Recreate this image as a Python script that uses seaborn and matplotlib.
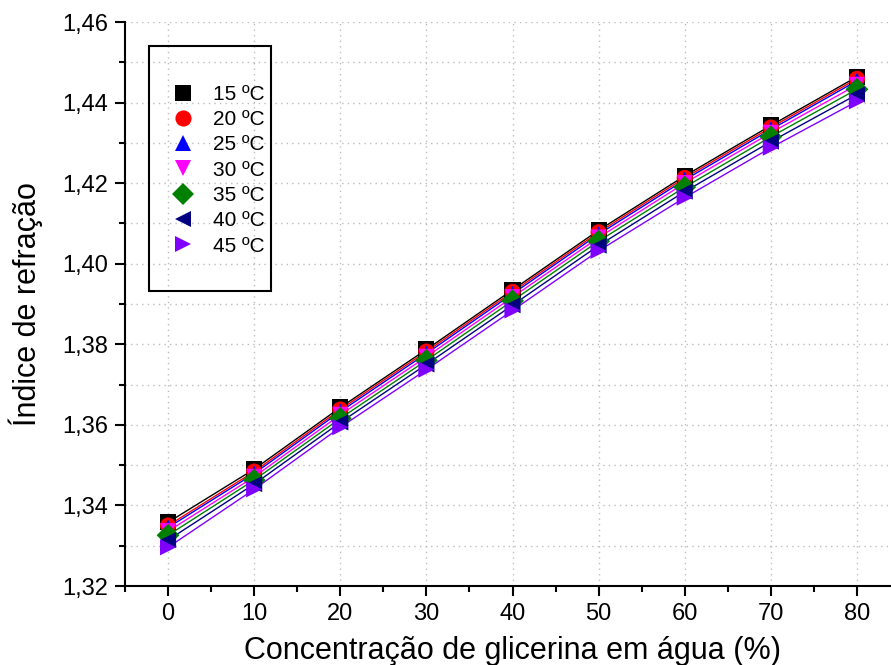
import numpy as np
import pandas as pd
import matplotlib
matplotlib.use("Agg")
import matplotlib.pyplot as plt
from matplotlib.patches import Rectangle
from matplotlib.ticker import MultipleLocator, FuncFormatter
import seaborn as sns

# Glycerin concentration in water (%)
concentration = [0, 10, 20, 30, 40, 50, 60, 70, 80]

# Refractive index for each temperature
n_15 = [1.3358, 1.3490, 1.3643, 1.3787, 1.3935, 1.4083, 1.4218, 1.4343, 1.4464]
n_20 = [1.3350, 1.3484, 1.3638, 1.3782, 1.3930, 1.4078, 1.4213, 1.4338, 1.4459]
n_25 = [1.3345, 1.3479, 1.3633, 1.3777, 1.3925, 1.4073, 1.4208, 1.4333, 1.4454]
n_30 = [1.3336, 1.3471, 1.3625, 1.3769, 1.3917, 1.4065, 1.4200, 1.4325, 1.4444]
n_35 = [1.3326, 1.3463, 1.3616, 1.3760, 1.3908, 1.4056, 1.4190, 1.4315, 1.4433]
n_40 = [1.3314, 1.3453, 1.3606, 1.3750, 1.3897, 1.4045, 1.4179, 1.4303, 1.4420]
n_45 = [1.3296, 1.3440, 1.3594, 1.3737, 1.3884, 1.4032, 1.4164, 1.4288, 1.4403]

temperatures = ["15 ºC", "20 ºC", "25 ºC", "30 ºC", "35 ºC", "40 ºC", "45 ºC"]
series = [n_15, n_20, n_25, n_30, n_35, n_40, n_45]

colors = ["#000000", "#FF0000", "#0000FF", "#FF00FF", "#008000", "#000080", "#8000FF"]
markers = ["s", "o", "^", "v", "D", "<", ">"]

df = pd.DataFrame({
    "conc": np.tile(concentration, len(temperatures)),
    "n": np.concatenate(series),
    "temp": np.repeat(temperatures, len(concentration)),
})

sns.set_theme(style="ticks")
plt.rcParams["font.family"] = ["Liberation Sans", "DejaVu Sans"]
plt.rcParams.update({
    "text.color": "black",
    "axes.labelcolor": "black",
    "xtick.color": "black",
    "ytick.color": "black",
})

W, H = 891, 665
fig = plt.figure(figsize=(W / 100, H / 100), dpi=100)
ax = fig.add_axes([125 / W, (H - 586) / H, 775 / W, 564 / H])

palette = dict(zip(temperatures, colors))
marker_map = dict(zip(temperatures, markers))

sns.lineplot(data=df, x="conc", y="n", hue="temp", palette=palette,
             linewidth=1.0, legend=False, ax=ax, zorder=2)
sns.scatterplot(data=df, x="conc", y="n", hue="temp", style="temp",
                palette=palette, markers=marker_map, s=135, linewidth=0,
                ax=ax, zorder=3)

ax.set_xlim(-5, 85)
ax.set_ylim(1.32, 1.46)
ax.xaxis.set_major_locator(MultipleLocator(10))
ax.xaxis.set_minor_locator(MultipleLocator(5))
ax.yaxis.set_major_locator(MultipleLocator(0.02))
ax.yaxis.set_minor_locator(MultipleLocator(0.01))
ax.yaxis.set_major_formatter(FuncFormatter(lambda v, p: f"{v:.2f}".replace(".", ",")))

ax.grid(True, which="major", axis="x", color="#bdbdbd", linestyle=(0, (1, 3)), linewidth=1)
ax.grid(True, which="both", axis="y", color="#bdbdbd", linestyle=(0, (1, 3)), linewidth=1)
ax.set_axisbelow(True)

for side in ("top", "right"):
    ax.spines[side].set_visible(False)
for side in ("left", "bottom"):
    ax.spines[side].set_linewidth(1.5)
    ax.spines[side].set_color("black")

ax.tick_params(which="major", direction="out", length=7, width=1.5, labelsize=17,
               colors="black", pad=5)
ax.tick_params(which="minor", direction="out", length=4, width=1.5, colors="black")

ax.set_xlabel("Concentração de glicerina em água (%)", fontsize=22, labelpad=8)
ax.set_ylabel("Índice de refração", fontsize=22, labelpad=14)

# Legend panel
ax.add_patch(Rectangle((24 / 775, (586 - 291) / 564), 122 / 775, 245 / 564,
                       transform=ax.transAxes, fill=False, edgecolor="black",
                       linewidth=1.5, zorder=5))
handles, labels = ax.get_legend_handles_labels()
leg = ax.legend(handles, labels, loc="upper left",
                bbox_to_anchor=(173 / W, (H - 85) / H), bbox_transform=fig.transFigure,
                frameon=False, fontsize=15, borderpad=0, borderaxespad=0,
                handlelength=1.0, handletextpad=0.9, labelspacing=0.3,
                markerscale=1.0)

fig.savefig("out.png", dpi=100)
